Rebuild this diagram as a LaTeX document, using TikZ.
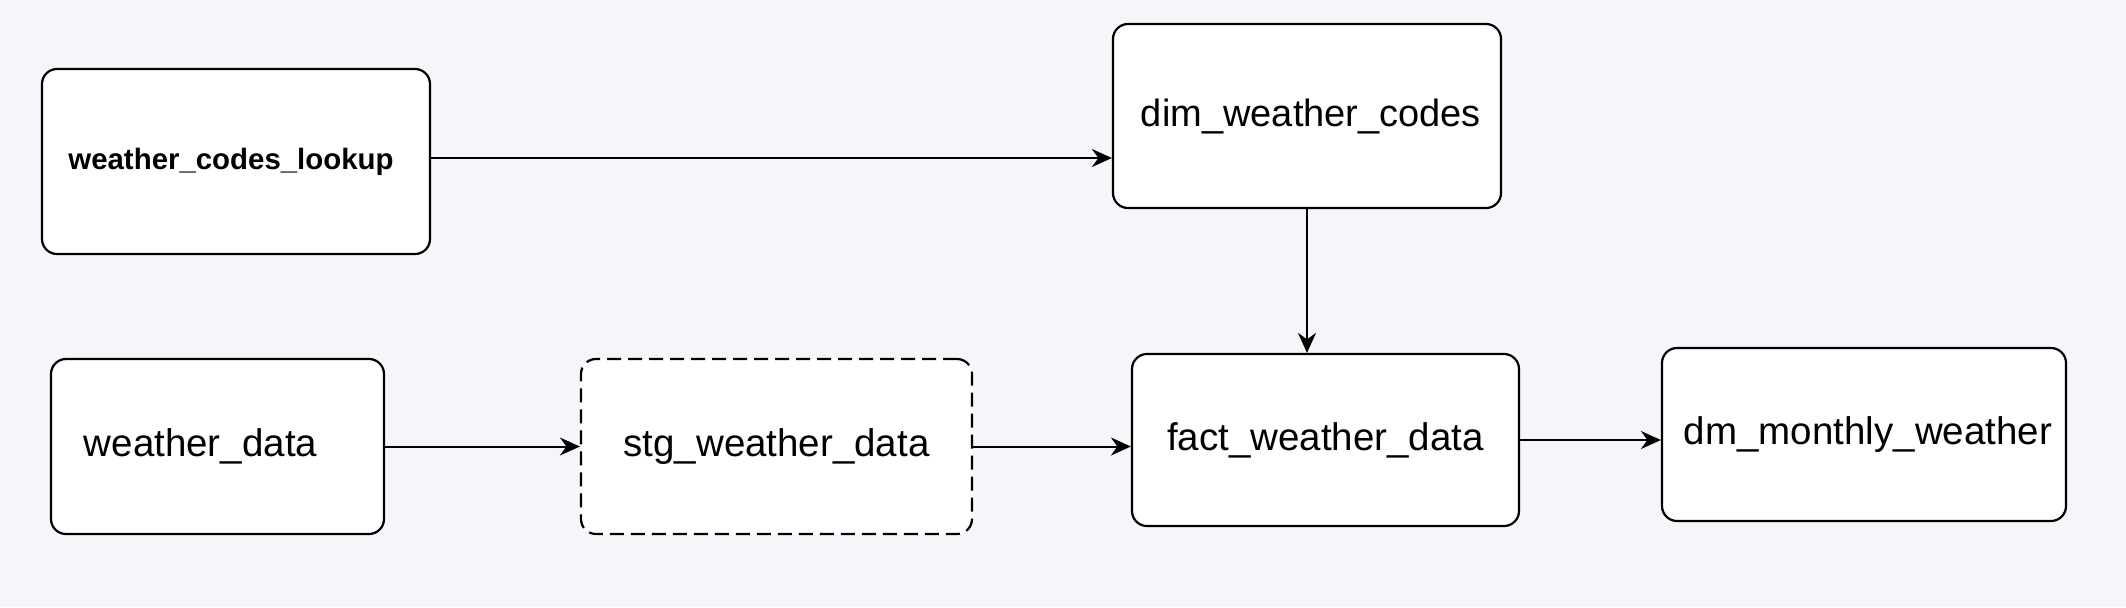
\documentclass[tikz,border=0pt]{standalone}
\usepackage{fontspec}
\setmainfont{Liberation Sans}
\usetikzlibrary{arrows.meta}
\definecolor{bgc}{RGB}{244,246,249}
\tikzset{
  box/.style={draw=black, fill=white, rounded corners=7.5pt, line width=1.1pt, inner sep=0pt,
              font=\fontsize{19.25}{22}\selectfont},
  dbox/.style={box, dash pattern=on 7pt off 3.5pt},
  arr/.style={-{Stealth[length=10pt,width=9pt]}, line width=1pt},
  thickarr/.style={arr, line width=1.3pt}
}
\begin{document}
\begin{tikzpicture}[x=0.5pt,y=-0.5pt]
  \fill[bgc] (0,0) rectangle (2126,607);
  \useasboundingbox (0,0) rectangle (2126,607);
  \node[box, minimum width=194pt, minimum height=92.5pt, font=\fontsize{14.7}{18}\selectfont\bfseries] (wcl) at (236,161.5) {\hspace*{-2.5pt}\raisebox{-1.5pt}{weather\_codes\_lookup}\hspace*{2.5pt}};
  \node[box, minimum width=194pt, minimum height=92pt, font=\fontsize{19}{22}\selectfont] (dim) at (1307,116) {\hspace*{2pt}\raisebox{-2.5pt}{dim\_weather\_codes}\hspace*{-2pt}};
  \node[box, minimum width=166.5pt, minimum height=87.5pt] (wd) at (217.5,446.5) {\hspace*{-8.5pt}\raisebox{-2pt}{weather\_data}\hspace*{8.5pt}};
  \node[dbox, minimum width=195.5pt, minimum height=87.5pt] (stg) at (776.5,446.5) {stg\_weather\_data};
  \node[box, minimum width=193.5pt, minimum height=86pt] (fact) at (1325.5,440) {\raisebox{-2pt}{fact\_weather\_data}};
  \node[box, minimum width=202pt, minimum height=86.5pt] (dm) at (1864,434.5) {\hspace*{2pt}\raisebox{-4pt}{dm\_monthly\_weather}\hspace*{-2pt}};
  \draw[thickarr] ([yshift=1.75pt]wcl.east) -- ([yshift=1.75pt]wcl.east -| dim.west);
  \draw[arr] (dim.south) -- (dim.south |- fact.north);
  \draw[arr] (wd.east) -- (stg.west);
  \draw[arr] (stg.east) -- (stg.east -| fact.west);
  \draw[arr] (fact.east) -- (fact.east -| dm.west);
\end{tikzpicture}
\end{document}
